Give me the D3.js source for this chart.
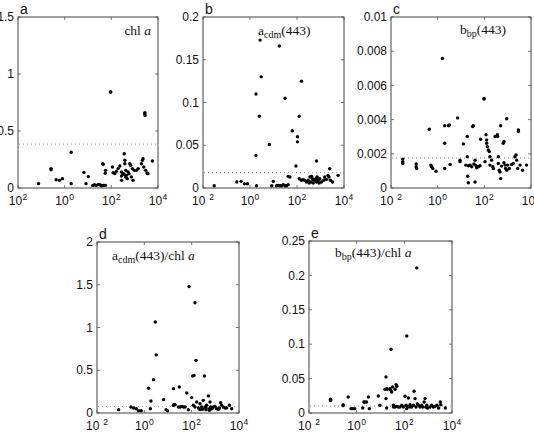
<!DOCTYPE html>
<html><head><meta charset="utf-8">
<script src="https://cdn.jsdelivr.net/npm/d3@7"></script>
<style>
body{margin:0;background:#fff;}
svg text{font-family:"Liberation Sans",Arial,sans-serif;fill:#111;}
.ann{font-family:"Liberation Serif","Times New Roman",serif;font-size:13.5px;}
</style></head><body>
<svg id="fig" width="534" height="443"></svg>
<script>
// shared x axis (log)
const xDomain = [1e-2, 1e4];
const xTicks = [1e-2, 1e0, 1e2, 1e4];
const xTickExp = ["2", "0", "2", "4"];

// panel a: chl a
const chlPts = [[0.076,0.038],[0.26,0.17],[0.26,0.16],[0.43,0.073],[0.60,0.067],[0.80,0.082],[1.9,0.313],[1.9,0.038],[6.7,0.137],[8.2,0.038],[10.3,0.10],[16,0.023],[19,0.029],[23,0.023],[28,0.032],[32,0.029],[38,0.02],[45,0.023],[55,0.023],[42,0.213],[45,0.208],[56,0.155],[55,0.13],[93,0.84],[93,0.845],[112,0.184],[120,0.134],[141,0.126],[166,0.146],[196,0.17],[232,0.193],[274,0.14],[274,0.067],[323,0.126],[355,0.30],[380,0.243],[380,0.213],[417,0.155],[447,0.111],[525,0.14],[575,0.126],[617,0.213],[676,0.199],[724,0.096],[803,0.17],[851,0.067],[955,0.155],[1200,0.155],[1410,0.17],[1950,0.213],[2140,0.243],[2290,0.257],[2450,0.184],[2690,0.652],[2750,0.66],[2790,0.637],[2950,0.155],[3390,0.132],[3720,0.126],[5750,0.237],[274,0.105],[355,0.12],[407,0.096],[479,0.082]];
const chlTicks = [0, 0.5, 1, 1.5];
const chlRef = 0.385;

// panel b: acdm(443)
const acdmPts = [[0.030,0.0027],[0.275,0.007],[0.42,0.0078],[0.58,0.005],[0.78,0.005],[1.8,0.038],[1.8,0.110],[1.9,0.0027],[2.7,0.173],[2.5,0.084],[3.0,0.130],[6.7,0.051],[8.4,0.0027],[9.8,0.0078],[13.5,0.0027],[16,0.003],[17.7,0.166],[19,0.0027],[22,0.0027],[26,0.0039],[31,0.105],[31,0.0027],[36,0.0027],[42,0.0039],[42,0.0136],[50,0.0129],[63,0.067],[90,0.0257],[105,0.060],[105,0.054],[124,0.084],[155,0.125],[124,0.0109],[155,0.009],[182,0.0097],[214,0.009],[252,0.007],[299,0.009],[355,0.0129],[389,0.007],[457,0.0109],[490,0.0058],[575,0.009],[676,0.0316],[676,0.007],[724,0.0129],[794,0.009],[871,0.0058],[933,0.0109],[1780,0.0101],[2090,0.0148],[2450,0.0226],[2630,0.009],[3240,0.007],[5620,0.0148],[331,0.0058],[417,0.0136],[490,0.0097],[631,0.0109],[1100,0.007],[1380,0.009],[1510,0.0129],[2290,0.0129]];
const acdmTicks = [0, 0.05, 0.1, 0.15, 0.2];
const acdmRef = 0.018;

// panel c: bbp(443)
const bbpPts = [[0.032,0.00169],[0.032,0.00144],[0.032,0.00154],[0.12,0.0014],[0.12,0.00124],[0.126,0.00114],[0.44,0.00344],[0.51,0.00134],[0.55,0.00124],[0.62,0.00114],[0.85,0.00098],[1.6,0.00758],[2.0,0.00114],[2.0,0.00262],[2.0,0.00364],[2.9,0.00364],[3.2,0.00368],[3.4,0.00138],[7.2,0.0041],[9.1,0.00163],[9.1,0.00154],[12.6,0.00258],[18.6,0.00301],[18.6,0.00183],[19.4,0.00069],[20.6,0.00031],[16,0.00134],[20.6,0.0013],[24.5,0.00134],[28.7,0.00124],[31.6,0.0036],[33.9,0.00364],[36,0.0014],[40,0.00163],[44,0.0013],[47,0.00118],[40,0.00035],[55,0.00124],[65,0.0013],[69,0.00285],[97,0.00524],[97,0.0052],[107,0.00154],[118,0.00311],[126,0.00281],[126,0.00262],[135,0.00242],[148,0.00222],[163,0.00213],[174,0.00183],[174,0.00134],[205,0.00163],[229,0.00124],[245,0.00114],[288,0.00301],[363,0.00311],[372,0.00301],[398,0.00183],[398,0.00144],[437,0.00104],[468,0.00094],[501,0.00055],[550,0.00128],[501,0.00364],[646,0.00262],[692,0.00272],[692,0.00148],[776,0.00134],[813,0.00114],[912,0.00405],[912,0.00104],[1000,0.00134],[1175,0.00114],[1480,0.00138],[1740,0.00144],[2040,0.00183],[2290,0.00193],[2450,0.00163],[2690,0.00114],[2880,0.0034],[2880,0.00331],[3390,0.00134],[4370,0.00104],[6460,0.00134]];
const bbpTicks = [0, 0.002, 0.004, 0.006, 0.008, 0.01];
const bbpRef = 0.00175;

// panel d: acdm(443)/chl a
const acdmChlPts = [[0.082,0.039],[0.27,0.07],[0.35,0.058],[0.46,0.05],[0.57,0.027],[0.74,0.027],[1.5,0.29],[1.8,0.05],[1.9,0.14],[2.45,0.39],[2.9,1.064],[3.2,0.68],[6.5,0.156],[8.3,0.039],[9.5,0.027],[17,0.285],[17,0.09],[18,0.10],[20,0.097],[27.5,0.07],[30,0.304],[32.5,0.07],[38,0.078],[45,0.07],[53,0.07],[62,0.234],[73,0.039],[78,1.48],[100,0.18],[111,0.433],[126,0.44],[138,1.29],[153,0.616],[118,0.09],[138,0.07],[163,0.129],[192,0.058],[225,0.109],[265,0.07],[311,0.148],[344,0.433],[367,0.07],[405,0.058],[431,0.09],[507,0.2],[561,0.05],[596,0.129],[635,0.07],[700,0.05],[774,0.058],[823,0.07],[970,0.078],[1140,0.05],[1340,0.043],[1480,0.058],[1670,0.121],[1850,0.09],[2170,0.07],[2560,0.058],[3000,0.058],[3900,0.09],[4900,0.05],[225,0.039],[293,0.043],[405,0.039],[561,0.031]];
const acdmChlTicks = [0, 0.5, 1, 1.5, 2];
const acdmChlRef = 0.075;

// panel e: bbp(443)/chl a
const bbpChlPts = [[0.08,0.0199],[0.08,0.018],[0.27,0.0121],[0.27,0.0107],[0.44,0.0233],[0.58,0.0063],[0.68,0.0063],[0.83,0.0063],[1.8,0.0073],[2.0,0.016],[2.2,0.016],[2.6,0.016],[3.1,0.0233],[3.4,0.0063],[8.1,0.0248],[9.5,0.0112],[17,0.0524],[15.5,0.0345],[18.2,0.0354],[19.5,0.0345],[17,0.0209],[18.2,0.0073],[25,0.0354],[27,0.033],[29.5,0.0306],[27.5,0.0927],[32.5,0.0379],[35,0.0087],[41,0.0345],[45,0.0413],[48,0.0388],[35,0.0112],[41,0.0087],[48,0.0097],[56,0.0087],[66,0.0087],[78,0.0112],[91,0.0087],[107,0.0243],[118,0.0112],[126,0.112],[138,0.0097],[148,0.0218],[163,0.0087],[174,0.0121],[204,0.0087],[240,0.0112],[257,0.0316],[282,0.0209],[309,0.0087],[331,0.211],[355,0.0136],[389,0.0112],[457,0.0087],[537,0.0112],[596,0.0087],[676,0.016],[741,0.0209],[794,0.0087],[871,0.0112],[933,0.0073],[1200,0.0087],[1410,0.0112],[1660,0.0087],[1950,0.0097],[2340,0.0112],[2750,0.0073],[3240,0.016],[3390,0.0121],[5250,0.0073],[126,0.0063]];
const bbpChlTicks = [0, 0.05, 0.1, 0.15, 0.2, 0.25];
const bbpChlRef = 0.01;

// annotation pieces: [text, kind]  kind: n=normal, s=subscript, i=italic
const panels = [
  {id:"a", x:18,  y:17,  w:140, h:171, pts:chlPts, ticks:chlTicks, ref:chlRef, gap:false,
   ann:{x:151, y:35, anchor:"end", parts:[["chl ","n"],["a","i"]]}},
  {id:"b", x:203, y:17,  w:141, h:171, pts:acdmPts, ticks:acdmTicks, ref:acdmRef, gap:true,
   ann:{x:258, y:35, anchor:"start", parts:[["a","n"],["cdm","s"],["(443)","n"]]}},
  {id:"c", x:391, y:17,  w:140, h:171, pts:bbpPts, ticks:bbpTicks, ref:bbpRef, gap:true,
   ann:{x:460, y:34, anchor:"start", parts:[["b","n"],["bp","s"],["(443)","n"]]}},
  {id:"d", x:97,  y:242, w:142, h:171, pts:acdmChlPts, ticks:acdmChlTicks, ref:acdmChlRef, gap:true,
   ann:{x:112, y:260, anchor:"start", parts:[["a","n"],["cdm","s"],["(443)/chl ","n"],["a","i"]]}},
  {id:"e", x:309, y:241, w:143, h:172, pts:bbpChlPts, ticks:bbpChlTicks, ref:bbpChlRef, gap:true,
   ann:{x:335, y:257, anchor:"start", parts:[["b","n"],["bp","s"],["(443)/chl ","n"],["a","i"]]}}
];

const svg = d3.select("#fig");
const tickLen = 3;

panels.forEach(p => {
  const x = d3.scaleLog().domain(xDomain).range([p.x, p.x + p.w]);
  const y = d3.scaleLinear().domain([0, d3.max(p.ticks)]).range([p.y + p.h, p.y]);
  const g = svg.append("g");

  // frame
  g.append("rect")
    .attr("x", p.x).attr("y", p.y).attr("width", p.w).attr("height", p.h)
    .attr("fill", "none").attr("stroke", "#444").attr("stroke-width", 1);

  // inward ticks on all sides
  g.selectAll(".yt").data(p.ticks).enter().append("path")
    .attr("d", v => `M${p.x},${y(v)}h${tickLen}M${p.x + p.w},${y(v)}h${-tickLen}`)
    .attr("stroke", "#555").attr("stroke-width", 0.8);
  g.selectAll(".xt").data(xTicks).enter().append("path")
    .attr("d", v => `M${x(v)},${p.y + p.h}v${-tickLen}M${x(v)},${p.y}v${tickLen}`)
    .attr("stroke", "#555").attr("stroke-width", 0.8);

  // y tick labels
  g.selectAll(".yl").data(p.ticks).enter().append("text")
    .attr("x", p.x - 4).attr("y", v => y(v)).attr("dy", "0.35em")
    .attr("text-anchor", "end").style("font-size", "12px")
    .text(d => String(d));

  // x tick labels 10^n
  const xl = g.selectAll(".xl").data(xTicks).enter().append("text")
    .attr("x", v => x(v)).attr("y", p.y + p.h + 17)
    .attr("text-anchor", "middle").style("font-size", "12px");
  xl.append("tspan").text("10");
  xl.append("tspan")
    .attr("dy", -5).attr("dx", (d, i) => (i === 0 && p.gap) ? 4 : 0.5)
    .style("font-size", "8.5px")
    .text((d, i) => xTickExp[i]);

  // dotted reference line
  g.append("line")
    .attr("x1", p.x + 1).attr("x2", p.x + p.w - 1)
    .attr("y1", y(p.ref)).attr("y2", y(p.ref))
    .attr("stroke", "#999").attr("stroke-width", 1).attr("stroke-dasharray", "1,3");

  // points
  g.selectAll("circle").data(p.pts).enter().append("circle")
    .attr("cx", d => x(d[0])).attr("cy", d => y(d[1]))
    .attr("r", 1.7).attr("fill", "#000");

  // panel letter
  g.append("text")
    .attr("x", p.x + 2).attr("y", p.y - 3)
    .style("font-size", "14px").text(p.id);

  // annotation
  const t = g.append("text").attr("class", "ann")
    .attr("x", p.ann.x).attr("y", p.ann.y).attr("text-anchor", p.ann.anchor);
  let sub = false;
  p.ann.parts.forEach(([s, k]) => {
    const ts = t.append("tspan").text(s);
    if (k === "s") { ts.attr("dy", 3).style("font-size", "10px"); sub = true; }
    else if (sub) { ts.attr("dy", -3); sub = false; }
    if (k === "i") ts.style("font-style", "italic");
  });
});
</script>
</body></html>
